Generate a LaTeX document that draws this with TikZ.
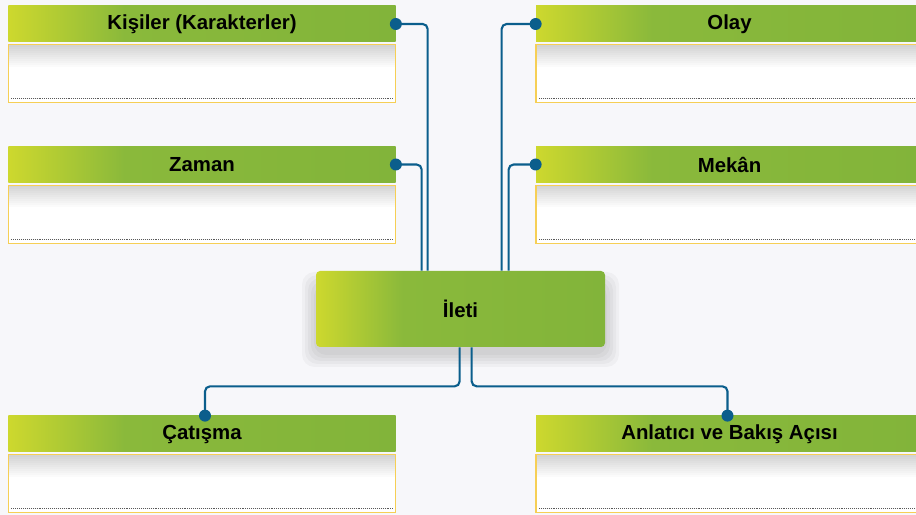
\documentclass[tikz,border=0pt]{standalone}
\usepackage{fontspec}
\setmainfont{Liberation Sans}
\usetikzlibrary{positioning}
\definecolor{bgpaper}{HTML}{F7F7FA}
\definecolor{barlime}{HTML}{CDD82E}
\definecolor{bargreen}{HTML}{8AB93B}
\definecolor{bargreendark}{HTML}{82B43A}
\definecolor{framegold}{HTML}{F6CF55}
\definecolor{linkblue}{HTML}{0B5E8C}
\pgfdeclarehorizontalshading{barfade}{100bp}{color(0bp)=(barlime); color(25bp)=(barlime); color(40bp)=(bargreen); color(75bp)=(bargreendark); color(100bp)=(bargreendark)}
\tikzset{
  headbar/.style = {shade, shading=barfade, inner sep=0pt, minimum width=7.74cm, minimum height=0.72cm,
    font=\bfseries\fontsize{11.6}{14}\selectfont, text=black},
  notebox/.style = {fill=white, draw=framegold, line width=0.6pt, inner sep=0pt,
    minimum width=7.74cm, minimum height=1.16cm,
    path picture={
      \foreach \d in {0.04,0.08,...,0.48}
        \fill[black, opacity=0.015] (path picture bounding box.north west) rectangle ([yshift=-\d cm]path picture bounding box.north east);
      \draw[black!65, line width=0.5pt, dash pattern=on 0.5pt off 0.6pt] ([shift={(0.06,0.08)}]path picture bounding box.south west) -- ([shift={(-0.04,0.08)}]path picture bounding box.south east);
    }},
  hubbox/.style = {shade, shading=barfade, rounded corners=0.08cm, inner sep=0pt,
    minimum width=5.78cm, minimum height=1.52cm,
    font=\bfseries\fontsize{11.6}{14}\selectfont, text=black},
  hubglow/.style = {fill=black, opacity=0.03, rounded corners=0.25cm},
  link/.style = {draw=linkblue, line width=1.2pt, rounded corners=0.1cm},
  linkdot/.style = {fill=linkblue},
}

\begin{document}
\begin{tikzpicture}
  \path[use as bounding box, clip] (0,0) rectangle (18.32,10.30);
  \fill[bgpaper] (0,0) rectangle (18.32,10.30);

  \foreach \g in {0.04,0.1,0.16,0.22,0.28}
    \fill[hubglow] (6.32-\g,3.24-\g) rectangle (12.10+\g,4.70+\g-0.12);

  \node [headbar] (kisiler) at (4.04,9.82) {Kişiler (Karakterler)};
  \node [notebox, below=0.04cm of kisiler] (kisilerbody) {};
  \node [headbar] (zaman) at (4.04,7.01) {Zaman};
  \node [notebox, below=0.04cm of zaman] (zamanbody) {};
  \node [headbar] (catisma) at (4.04,1.62) {Çatışma};
  \node [notebox, below=0.04cm of catisma] (catismabody) {};

  \node [headbar] (olay) at (14.59,9.82) {Olay};
  \node [notebox, below=0.04cm of olay] (olaybody) {};
  \node [headbar] (mekan) at (14.59,7.01) {Mekân};
  \node [notebox, below=0.04cm of mekan] (mekanbody) {};
  \node [headbar] (anlatici) at (14.59,1.62) {Anlatıcı ve Bakış Açısı};
  \node [notebox, below=0.04cm of anlatici] (anlaticibody) {};

  \node [hubbox] (ileti) at (9.21,4.12) {İleti};

  \draw [link] (kisiler.east) -| ([xshift=2.24cm]ileti.north west);
  \draw [link] (zaman.east) -| ([xshift=2.12cm]ileti.north west);
  \draw [link] (olay.west) -| ([xshift=3.72cm]ileti.north west);
  \draw [link] (mekan.west) -| ([xshift=3.86cm]ileti.north west);
  \draw [link] ([xshift=2.88cm]ileti.south west) -- ++(0,-0.78) -| ([xshift=0.06cm]catisma.north);
  \draw [link] ([xshift=3.12cm]ileti.south west) -- ++(0,-0.78) -| ([xshift=-0.04cm]anlatici.north);

  \fill [linkdot] (kisiler.east) circle (0.12);
  \fill [linkdot] (zaman.east) circle (0.12);
  \fill [linkdot] (olay.west) circle (0.12);
  \fill [linkdot] (mekan.west) circle (0.12);
  \fill [linkdot] ([xshift=0.06cm]catisma.north) circle (0.12);
  \fill [linkdot] ([xshift=-0.04cm]anlatici.north) circle (0.12);
\end{tikzpicture}
\end{document}
